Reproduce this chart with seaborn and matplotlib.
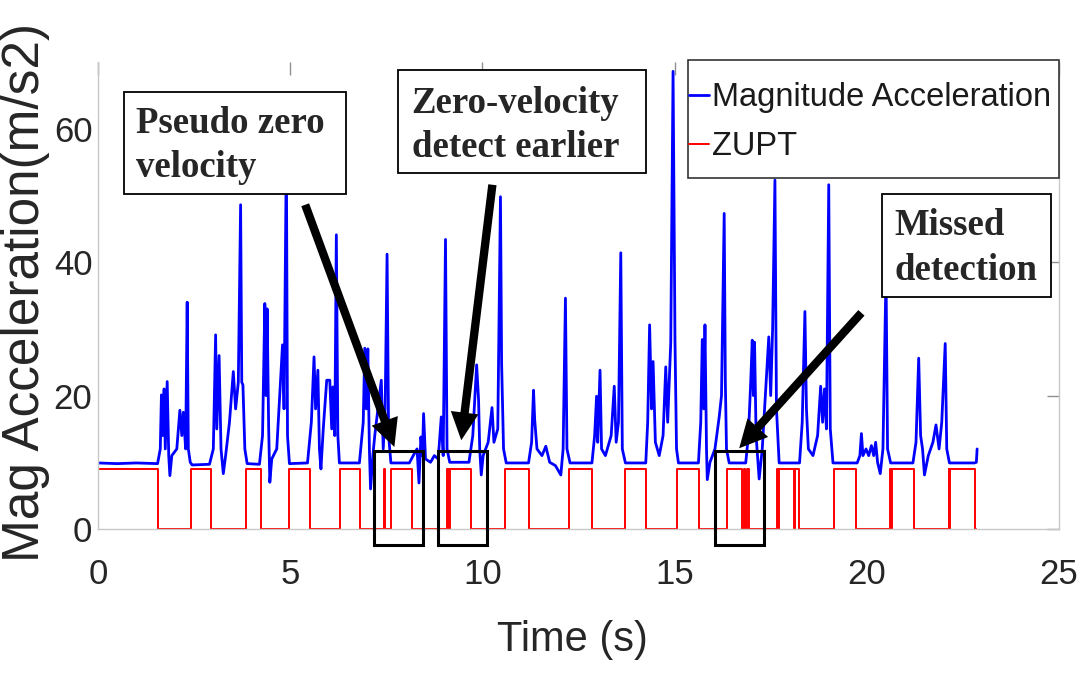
import matplotlib
matplotlib.use("Agg")
import matplotlib.pyplot as plt
import seaborn as sns
from matplotlib.patches import Rectangle

# ---------------- data ----------------
acc_time = [0.00, 0.50, 1.00, 1.55, 1.62, 1.65, 1.68, 1.72, 1.75, 1.80, 1.84, 1.87, 1.92,
            2.05, 2.13, 2.18, 2.22, 2.28, 2.32, 2.35, 2.40, 2.45, 2.90, 3.00, 3.06, 3.09,
            3.15, 3.20, 3.26, 3.32, 3.42, 3.52, 3.58, 3.65, 3.71, 3.74, 3.77, 3.82, 3.88,
            4.20, 4.28, 4.34, 4.37, 4.40, 4.44, 4.47, 4.52, 4.65, 4.80, 4.84, 4.90, 4.93,
            4.98, 5.45, 5.55, 5.62, 5.66, 5.72, 5.76, 5.80, 5.86, 5.95, 6.03, 6.08, 6.11,
            6.16, 6.20, 6.24, 6.28, 6.80, 6.90, 6.94, 6.98, 7.02, 7.06, 7.09, 7.15, 7.20,
            7.37, 7.42, 7.47, 7.52, 7.56, 7.62, 8.10, 8.20, 8.30, 8.35, 8.40, 8.44, 8.47,
            8.52, 8.65, 8.75, 8.85, 8.93, 8.98, 9.04, 9.08, 9.15, 9.65, 9.75, 9.85, 9.90,
            9.93, 9.97, 10.02, 10.15, 10.25, 10.30, 10.40, 10.47, 10.50, 10.55, 10.62,
            11.20, 11.28, 11.33, 11.36, 11.42, 11.55, 11.65, 11.75, 11.90, 12.04, 12.10,
            12.16, 12.20, 12.28, 12.85, 12.92, 12.97, 13.00, 13.06, 13.10, 13.20, 13.35,
            13.43, 13.48, 13.54, 13.60, 13.64, 13.72, 14.25, 14.30, 14.35, 14.40, 14.44,
            14.50, 14.60, 14.70, 14.77, 14.82, 14.90, 14.96, 15.01, 15.05, 15.10, 15.62,
            15.68, 15.72, 15.76, 15.79, 15.83, 15.85, 15.92, 16.05, 16.16, 16.22, 16.29,
            16.32, 16.35, 16.42, 16.85, 16.92, 16.98, 17.02, 17.05, 17.08, 17.12, 17.20,
            17.28, 17.38, 17.45, 17.50, 17.55, 17.61, 17.65, 17.72, 18.25, 18.32, 18.39,
            18.43, 18.48, 18.60, 18.72, 18.80, 18.85, 18.90, 18.95, 19.01, 19.05, 19.12,
            19.75, 19.82, 19.86, 19.90, 19.98, 20.05, 20.12, 20.18, 20.23, 20.28, 20.35,
            20.42, 20.50, 20.54, 20.62, 21.20, 21.28, 21.35, 21.40, 21.45, 21.50, 21.60,
            21.72, 21.80, 21.88, 21.95, 22.04, 22.08, 22.15, 22.80, 22.85, 22.87]
acc_value = [9.9, 9.8, 9.9, 9.8, 12.0, 20.1, 14.0, 21.0, 12.0, 22.1, 11.0, 8.0, 11.0,
             12.0, 17.8, 14.0, 17.5, 12.0, 34.0, 12.0, 10.0, 9.6, 9.7, 12.0, 29.1, 15.0,
             26.0, 12.0, 8.3, 11.0, 16.0, 23.6, 18.0, 22.0, 48.6, 22.0, 21.6, 12.0, 9.8,
             9.7, 14.0, 33.8, 20.0, 33.0, 15.0, 7.0, 10.5, 12.0, 27.6, 18.0, 56.8, 14.0,
             9.8, 9.9, 16.0, 25.8, 18.0, 23.8, 12.0, 9.0, 15.0, 22.3, 22.3, 15.0, 21.3,
             14.0, 44.1, 14.0, 9.9, 9.9, 16.0, 27.1, 18.0, 27.0, 12.0, 6.0, 11.0, 14.0,
             22.3, 12.0, 18.0, 41.2, 14.0, 9.9, 9.9, 11.0, 12.0, 6.9, 13.8, 11.0, 17.3,
             10.5, 10.0, 11.0, 10.5, 16.8, 11.0, 43.4, 12.0, 10.0, 10.0, 14.0, 24.6, 19.4,
             12.0, 8.1, 11.0, 13.0, 18.2, 13.0, 15.0, 49.8, 24.8, 12.0, 9.9,
             9.9, 13.0, 20.8, 16.4, 12.0, 11.0, 12.4, 10.0, 9.5, 8.1, 12.0,
             34.6, 12.0, 9.9, 9.9, 14.0, 19.9, 13.0, 23.8, 12.0, 11.0, 14.0,
             21.4, 13.0, 16.0, 41.4, 12.0, 9.9, 9.9, 16.0, 30.6, 18.0, 25.1,
             13.0, 11.0, 14.0, 24.3, 16.0, 28.0, 68.6, 28.3, 12.0, 9.9, 9.9,
             16.0, 28.4, 18.0, 30.6, 12.0, 7.4, 10.0, 12.0, 16.8, 20.0, 47.3,
             22.0, 12.0, 9.9, 9.9, 14.0, 22.0, 28.3, 20.0, 28.0, 14.0, 7.5,
             12.0, 22.0, 28.8, 20.0, 30.0, 52.3, 18.0, 9.9, 9.9, 16.0, 32.6,
             18.0, 12.0, 11.0, 14.0, 21.4, 16.0, 21.0, 15.0, 51.6, 15.0, 9.9,
             9.9, 11.0, 14.3, 11.0, 12.0, 11.0, 12.5, 11.0, 13.0, 10.0, 8.3,
             12.0, 38.3, 12.0, 9.9, 9.9, 13.0, 25.6, 14.0, 12.0, 8.1, 11.0,
             13.0, 15.6, 12.0, 16.0, 27.8, 12.0, 9.9, 9.9, 10.0, 12.0]

zupt_time = [0.00, 1.57, 2.43, 2.95, 3.86, 4.23, 4.96, 5.51, 6.30, 6.82, 7.44, 7.46,
             7.63, 8.17, 9.07, 9.10, 9.12, 9.14, 9.16, 9.71, 10.60, 11.22, 12.26, 12.85,
             13.71, 14.25, 15.07, 15.64, 16.37, 16.75, 16.80, 16.82, 16.88, 16.94, 17.67,
             17.69, 17.72, 18.10, 18.12, 18.23, 19.14, 19.71, 20.61, 20.63, 20.65, 21.22,
             22.13, 22.15, 22.17, 22.82, 22.85]
zupt_value = [9.0, 0.0, 9.0, 0.0, 9.0, 0.0, 9.0, 0.0, 9.0, 0.0, 9.0, 0.0,
              9.0, 0.0, 9.0, 0.0, 9.0, 0.0, 9.0, 0.0, 9.0, 0.0, 9.0, 0.0,
              9.0, 0.0, 9.0, 0.0, 9.0, 0.0, 9.0, 0.0, 9.0, 0.0, 9.0,
              0.0, 9.0, 0.0, 9.0, 0.0, 9.0, 0.0, 9.0, 0.0, 9.0, 0.0,
              9.0, 0.0, 9.0, 0.0, 0.0]

series_labels = ["Magnitude Acceleration", "ZUPT"]
x_ticks = [0, 5, 10, 15, 20, 25]
y_ticks = [0, 20, 40, 60]
x_label = "Time (s)"
y_label = "Mag Acceleration(m/s2)"

# annotations: (text lines, box [t0, t1, v0, v1], arrow tail, arrow tip)
note_lines = [["Pseudo zero", "velocity"],
              ["Zero-velocity", "detect earlier"],
              ["Missed", "detection"]]
note_boxes = [(0.68, 6.45, 50.2, 65.5), (7.80, 14.26, 53.4, 68.8), (20.40, 24.79, 34.8, 50.2)]
note_text_pos = [(0.98, 59.4, 52.8), (8.16, 62.4, 55.8), (20.72, 44.0, 37.3)]
arrow_tails = [(5.39, 48.6), (10.26, 51.6), (19.86, 32.4)]
arrow_tips = [(7.71, 12.3), (9.45, 13.3), (16.68, 12.1)]
small_boxes = [(7.18, 8.45), (8.84, 10.12), (16.05, 17.33)]
small_box_v = (-2.4, 11.7)

# ---------------- style ----------------
sns.set_style("white")
sans = ["Liberation Sans", "DejaVu Sans"]
plt.rcParams["font.family"] = sans

W, H = 1086, 674
fig = plt.figure(figsize=(W / 100, H / 100), dpi=100)
ax = fig.add_axes([98 / W, 1 - 529 / H, (1059 - 98) / W, (529 - 62) / H])

sns.lineplot(x=acc_time, y=acc_value, ax=ax, color="#0000ff", lw=2.0,
             estimator=None, sort=False, label=series_labels[0])
sns.lineplot(x=zupt_time, y=zupt_value, ax=ax, color="#ff0000", lw=1.4,
             estimator=None, sort=False, drawstyle="steps-post", label=series_labels[1])

ax.set_xlim(0, 25)
ax.set_ylim(0, 70)
ax.set_xticks(x_ticks)
ax.set_yticks(y_ticks)
ax.set_xticklabels([str(t) for t in x_ticks])
ax.set_yticklabels([str(t) for t in y_ticks])

for side in ["left", "right", "bottom"]:
    ax.spines[side].set_color("#c8c8c8")
    ax.spines[side].set_linewidth(1.0)
ax.spines["top"].set_visible(False)

ax.tick_params(axis="both", direction="in", top=True, right=True, length=9,
               width=1, color="#909090", labelcolor="#262626", labelsize=25)
ax.tick_params(axis="x", pad=21)
ax.tick_params(axis="y", pad=4)

ax.set_xlabel(x_label, fontsize=30, color="#262626")
ax.xaxis.set_label_coords((572 - 98) / 961, (529 - 620) / 467)
ax.set_ylabel(y_label, fontsize=37, color="#262626")
ax.yaxis.set_label_coords((50 - 98) / 961, (529 - 292) / 467)

# small detection boxes
for t0, t1 in small_boxes:
    ax.add_patch(Rectangle((t0, small_box_v[0]), t1 - t0, small_box_v[1] - small_box_v[0],
                           fill=False, ec="black", lw=2.2, clip_on=False, zorder=5))

# annotation boxes, text and arrows
for lines, box, tp, tail, tip in zip(note_lines, note_boxes, note_text_pos, arrow_tails, arrow_tips):
    t0, t1, v0, v1 = box
    ax.add_patch(Rectangle((t0, v0), t1 - t0, v1 - v0, fc="white", ec="black",
                           lw=1.3, clip_on=False, zorder=6))
    for line, yv in zip(lines, tp[1:]):
        ax.text(tp[0], yv, line, fontsize=26.5, fontweight="bold",
                family=["Liberation Serif", "DejaVu Serif"], va="baseline", ha="left", zorder=7)
    ax.annotate("", xy=tip, xytext=tail, zorder=8,
                arrowprops=dict(arrowstyle="simple,head_length=1.0,head_width=1.0,tail_width=0.3",
                                mutation_scale=20, fc="black", ec="none",
                                shrinkA=0, shrinkB=0))

# legend: frame drawn as a rectangle matching the reference box
ax.add_patch(Rectangle((688 / W, 1 - 178 / H), (1059 - 688) / W, (178 - 60) / H,
                       transform=fig.transFigure, fc="white", ec="#333333", lw=1.2,
                       clip_on=False, zorder=9))
leg = ax.legend(loc="center left", bbox_to_anchor=(689 / W, 1 - 122 / H),
                bbox_transform=fig.transFigure, borderaxespad=0, borderpad=0,
                fontsize=23.5, handlelength=0.62, handletextpad=0.08, labelspacing=0.55,
                frameon=False)
for txt in leg.get_texts():
    txt.set_color("#1a1a1a")
leg.set_zorder(10)

fig.savefig("out.png", dpi=100)
